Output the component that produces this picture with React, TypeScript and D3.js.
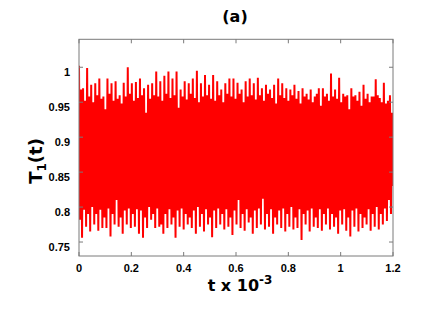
import React from "react";
import * as d3 from "d3";

const xTicks = [0, 0.2, 0.4, 0.6, 0.8, 1, 1.2];
const yTicks = [0.75, 0.8, 0.85, 0.9, 0.95, 1];
const xDomain = [0, 1.2];
const yDomain = [0.73, 1.04];

// upper swings of T1(t), read left to right
const upperPeaks = [
  1.002, 0.968, 0.97, 0.952, 0.999, 0.958, 0.975, 0.95, 0.977, 0.96, 0.984, 0.955, 0.958, 0.94, 0.984, 0.962, 0.977, 0.952, 0.98, 0.955,
  0.96, 0.948, 0.978, 0.958, 1.0, 0.962, 0.977, 0.952, 0.979, 0.956, 0.984, 0.96, 0.97, 0.935, 0.975, 0.955, 0.977, 0.96, 0.994, 0.958,
  0.98, 0.952, 0.988, 0.962, 0.994, 0.956, 0.984, 0.96, 0.994, 0.942, 0.968, 0.958, 0.98, 0.954, 0.977, 0.962, 0.984, 0.956, 0.995, 0.95,
  0.977, 0.958, 0.989, 0.96, 0.975, 0.955, 0.989, 0.952, 0.98, 0.96, 0.968, 0.95, 0.977, 0.962, 0.984, 0.958, 0.984, 0.955, 0.978, 0.962,
  0.968, 0.95, 0.98, 0.958, 0.984, 0.96, 0.977, 0.954, 0.985, 0.96, 0.97, 0.952, 0.975, 0.962, 0.968, 0.956, 0.975, 0.948, 0.984, 0.96,
  0.977, 0.956, 0.97, 0.952, 0.968, 0.96, 0.975, 0.955, 0.966, 0.948, 0.97, 0.958, 0.962, 0.954, 0.968, 0.95, 0.958, 0.962, 0.97, 0.945,
  0.97, 0.958, 0.962, 0.952, 0.991, 0.958, 0.968, 0.955, 0.985, 0.95, 0.962, 0.958, 0.96, 0.94, 0.97, 0.958, 0.96, 0.952, 0.965, 0.945,
  0.975, 0.955, 0.962, 0.95, 0.958, 0.958, 0.983, 0.96, 0.956, 0.95, 0.978, 0.948, 0.952, 0.96, 0.935,
];

// lower swings of T1(t), read left to right
const lowerPeaks = [
  0.782, 0.756, 0.796, 0.772, 0.79, 0.765, 0.8, 0.775, 0.79, 0.766, 0.796, 0.77, 0.785, 0.77, 0.798, 0.758, 0.79, 0.775, 0.81, 0.772,
  0.785, 0.762, 0.795, 0.775, 0.798, 0.77, 0.79, 0.772, 0.797, 0.762, 0.795, 0.756, 0.785, 0.77, 0.8, 0.782, 0.79, 0.77, 0.798, 0.772,
  0.775, 0.762, 0.79, 0.77, 0.797, 0.775, 0.785, 0.756, 0.795, 0.772, 0.798, 0.768, 0.79, 0.775, 0.785, 0.77, 0.795, 0.762, 0.8, 0.772,
  0.79, 0.765, 0.797, 0.775, 0.785, 0.757, 0.795, 0.77, 0.798, 0.775, 0.79, 0.768, 0.797, 0.772, 0.785, 0.76, 0.795, 0.775, 0.81, 0.77,
  0.79, 0.766, 0.797, 0.778, 0.785, 0.762, 0.795, 0.77, 0.798, 0.775, 0.812, 0.768, 0.79, 0.772, 0.797, 0.762, 0.785, 0.775, 0.795, 0.77,
  0.798, 0.765, 0.79, 0.772, 0.8, 0.768, 0.785, 0.77, 0.797, 0.753, 0.79, 0.775, 0.795, 0.765, 0.798, 0.772, 0.785, 0.77, 0.797, 0.766,
  0.79, 0.775, 0.798, 0.768, 0.79, 0.772, 0.785, 0.762, 0.795, 0.775, 0.797, 0.766, 0.785, 0.758, 0.795, 0.772, 0.798, 0.765, 0.79, 0.77,
  0.785, 0.775, 0.797, 0.766, 0.79, 0.772, 0.8, 0.768, 0.79, 0.775, 0.798, 0.78, 0.81, 0.79, 0.83,
];

const W = 436;
const H = 327;
const M = { left: 79, right: 393, top: 39.3, bottom: 256 };

export default function App() {
  const x = d3.scaleLinear().domain(xDomain).range([M.left, M.right]);
  const y = d3.scaleLinear().domain(yDomain).range([M.bottom, M.top]);

  const n = Math.min(upperPeaks.length, lowerPeaks.length);
  const pts: [number, number][] = [];
  const step = (xDomain[1] - xDomain[0]) / (2 * n - 1);
  for (let i = 0; i < n; i++) {
    pts.push([2 * i * step, upperPeaks[i]]);
    pts.push([(2 * i + 1) * step, lowerPeaks[i]]);
  }
  const line = d3
    .line<[number, number]>()
    .x((d) => x(d[0]))
    .y((d) => y(d[1]));

  const axisColor = "#7a7a7a";
  const tickLen = 4;
  const tickFont = "'Liberation Sans', Arial, sans-serif";
  const labelFont = "'DejaVu Sans', sans-serif";

  return (
    <svg width={W} height={H} style={{ position: "absolute", left: 0, top: 0 }}>
      <rect x={0} y={0} width={W} height={H} fill="#fff" />
      <defs>
        <clipPath id="plotclip">
          <rect x={M.left} y={M.top} width={M.right - M.left} height={M.bottom - M.top} />
        </clipPath>
      </defs>
      <g clipPath="url(#plotclip)">
        <path d={line(pts) || ""} fill="none" stroke="#ff0000" strokeWidth={2} strokeLinejoin="bevel" />
      </g>
      <rect
        x={M.left}
        y={M.top}
        width={M.right - M.left}
        height={M.bottom - M.top}
        fill="none"
        stroke={axisColor}
        strokeWidth={1}
      />
      {xTicks.map((t) => (
        <g key={"x" + t}>
          <line x1={x(t)} x2={x(t)} y1={M.bottom} y2={M.bottom - tickLen} stroke={axisColor} />
          <line x1={x(t)} x2={x(t)} y1={M.top} y2={M.top + tickLen} stroke={axisColor} />
          <text
            x={x(t)}
            y={272}
            textAnchor="middle"
            fontFamily={tickFont}
            fontWeight="bold"
            fontSize={11}
            fill="#000"
          >
            {String(t)}
          </text>
        </g>
      ))}
      {yTicks.map((t) => (
        <g key={"y" + t}>
          <line x1={M.left} x2={M.left + tickLen} y1={y(t)} y2={y(t)} stroke={axisColor} />
          <line x1={M.right} x2={M.right - tickLen} y1={y(t)} y2={y(t)} stroke={axisColor} />
          <text
            x={70}
            y={y(t) + 8.5}
            textAnchor="end"
            fontFamily={tickFont}
            fontWeight="bold"
            fontSize={11}
            fill="#000"
          >
            {String(t)}
          </text>
        </g>
      ))}
      <text x={235} y={21.5} textAnchor="middle" fontFamily={labelFont} fontWeight="bold" fontSize={16} fill="#000">
        (a)
      </text>
      <text x={240} y={291} textAnchor="middle" fontFamily={labelFont} fontWeight="bold" fontSize={16} fill="#000">
        t x 10
        <tspan fontSize={12} dy={-7}>
          -3
        </tspan>
      </text>
      <text
        transform={`translate(42,161) rotate(-90)`}
        textAnchor="middle"
        fontFamily={labelFont}
        fontWeight="bold"
        fontSize={18}
        fill="#000"
      >
        T
        <tspan fontSize={12} dy={4}>
          1
        </tspan>
        <tspan dy={-4}>(t)</tspan>
      </text>
    </svg>
  );
}
